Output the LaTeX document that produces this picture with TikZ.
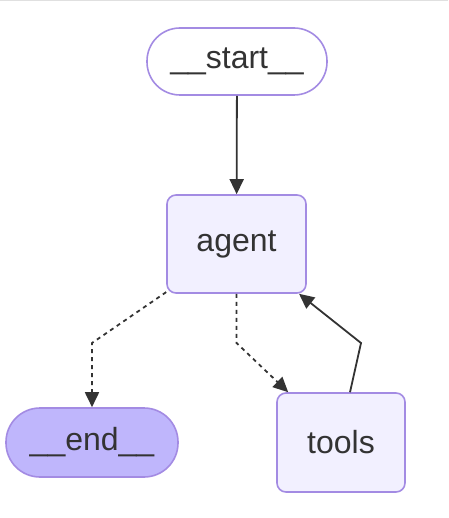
\documentclass[tikz,border=0pt]{standalone}
\usepackage{fontspec}
\setmainfont{Liberation Sans}
\usetikzlibrary{arrows.meta}
\definecolor{nodestroke}{HTML}{A38BE3}
\definecolor{nodefill}{HTML}{F2F0FF}
\definecolor{endfill}{HTML}{BFB6FC}
\definecolor{edgecol}{HTML}{333333}
\definecolor{txt}{HTML}{333333}
\tikzset{
  base/.style={draw=nodestroke, line width=1.6pt, inner sep=0pt, text=txt,
    font=\fontsize{32}{38}\selectfont},
  pill/.style={base, rounded corners=33pt},
  box/.style={base, fill=nodefill, rounded corners=9pt},
  edge/.style={draw=edgecol, line width=1.8pt, -{Triangle[length=15pt,width=14pt]}},
  dotted edge/.style={edge, dash pattern=on 4pt off 4pt},
}
\begin{document}
\begin{tikzpicture}[x=1pt,y=-1pt]
\useasboundingbox (0,0) rectangle (448,518);
\draw[draw=black!12, line width=1pt] (0,0.5) -- (448,0.5);
\node[pill, fill=white, minimum width=180pt, minimum height=67pt] (start) at (237,61.5) {\_\_start\_\_};
\node[box, minimum width=139pt, minimum height=98pt] (agent) at (236.5,244) {agent};
\node[pill, fill=endfill, minimum width=172pt, minimum height=69pt, rounded corners=34pt] (end) at (92,442.5) {\_\_end\_\_};
\node[box, minimum width=128pt, minimum height=99pt] (tools) at (341,442.5) {tools};
\coordinate (b1) at (92,343);
\coordinate (b2) at (236.5,343);
\coordinate (b3) at (361,343);
\draw[edge] (start) -- (agent);
\draw[dotted edge] (agent) -- (b1) -- (end);
\draw[dotted edge] (agent.south) -- (b2) -- (tools);
\draw[edge] ([xshift=9pt]tools.north) -- (b3) -- (agent);
\end{tikzpicture}
\end{document}
